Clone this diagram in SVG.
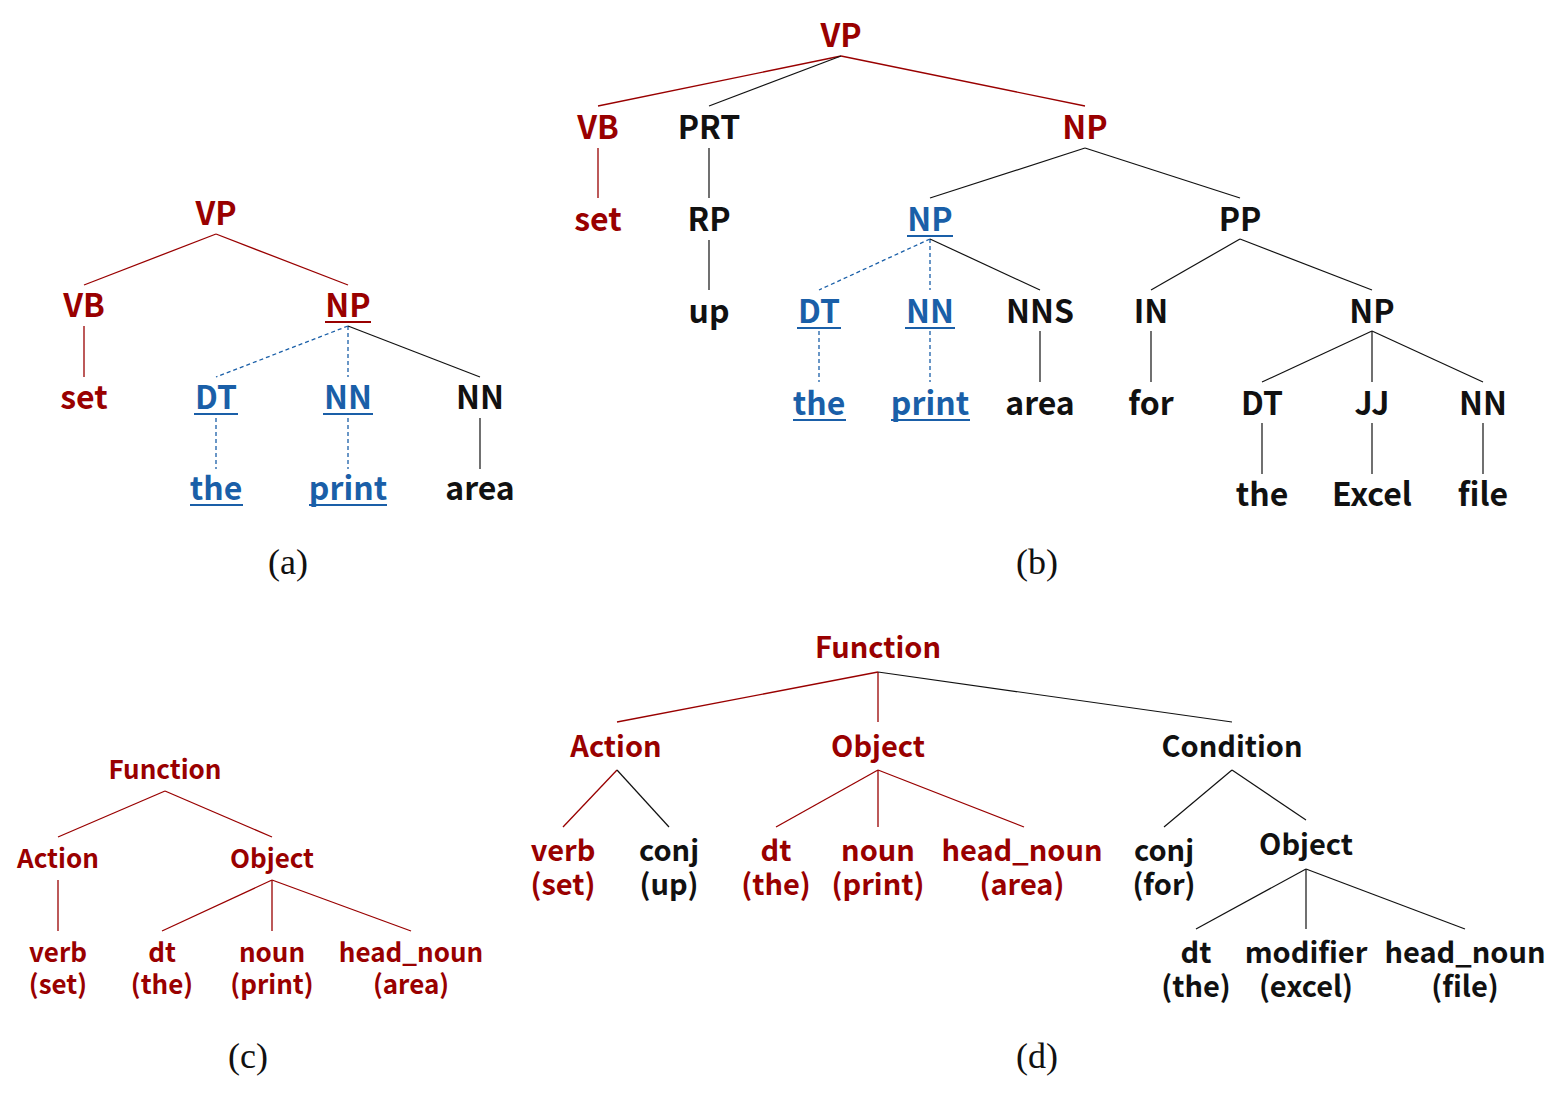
<svg xmlns="http://www.w3.org/2000/svg" width="1558" height="1098" viewBox="0 0 1558 1098">
<style>
text{font-family:"Noto Sans CJK SC","Noto Sans",sans-serif;font-weight:600;text-anchor:middle}
.big{font-size:32px}
.mid{font-size:29px}
.sm{font-size:26px}
.cap{font-family:"Liberation Serif","DejaVu Serif",serif;font-weight:400;font-size:36px}
.r{fill:#990000}
.b{fill:#1a5fa8}
.k{fill:#111}
.er{stroke:#990000;stroke-width:1.3;fill:none}
.ek{stroke:#111;stroke-width:1.2;fill:none}
.eb{stroke:#1a5fa8;stroke-width:1.3;stroke-dasharray:4 3;fill:none}
.ur{stroke:#990000;stroke-width:2}
.ub{stroke:#1a5fa8;stroke-width:2}
</style>
<rect width="1558" height="1098" fill="#fff"/>
<g id="connectors">
<!-- tree a -->
<line class="er" x1="216" y1="234" x2="84" y2="285"/>
<line class="er" x1="216" y1="234" x2="348" y2="285"/>
<line class="er" x1="84" y1="326" x2="84" y2="377"/>
<line class="eb" x1="348" y1="326" x2="216" y2="377"/>
<line class="eb" x1="348" y1="326" x2="348" y2="377"/>
<line class="ek" x1="348" y1="326" x2="480" y2="377"/>
<line class="eb" x1="216" y1="418" x2="216" y2="469"/>
<line class="eb" x1="348" y1="418" x2="348" y2="469"/>
<line class="ek" x1="480" y1="418" x2="480" y2="469"/>
<!-- tree b -->
<line class="er" x1="841" y1="56" x2="598" y2="106"/>
<line class="ek" x1="841" y1="56" x2="709" y2="106"/>
<line class="er" x1="841" y1="56" x2="1085" y2="106"/>
<line class="er" x1="598" y1="148" x2="598" y2="198"/>
<line class="ek" x1="709" y1="148" x2="709" y2="198"/>
<line class="ek" x1="709" y1="240" x2="709" y2="290"/>
<line class="ek" x1="1085" y1="148" x2="930" y2="198"/>
<line class="ek" x1="1085" y1="148" x2="1240" y2="198"/>
<line class="eb" x1="930" y1="239" x2="819" y2="290"/>
<line class="eb" x1="930" y1="239" x2="930" y2="290"/>
<line class="ek" x1="930" y1="239" x2="1040" y2="290"/>
<line class="ek" x1="1240" y1="239" x2="1151" y2="290"/>
<line class="ek" x1="1240" y1="239" x2="1372" y2="290"/>
<line class="eb" x1="819" y1="331" x2="819" y2="382"/>
<line class="eb" x1="930" y1="331" x2="930" y2="382"/>
<line class="ek" x1="1040" y1="331" x2="1040" y2="382"/>
<line class="ek" x1="1151" y1="331" x2="1151" y2="382"/>
<line class="ek" x1="1372" y1="331" x2="1262" y2="382"/>
<line class="ek" x1="1372" y1="331" x2="1372" y2="382"/>
<line class="ek" x1="1372" y1="331" x2="1483" y2="382"/>
<line class="ek" x1="1262" y1="423" x2="1262" y2="474"/>
<line class="ek" x1="1372" y1="423" x2="1372" y2="474"/>
<line class="ek" x1="1483" y1="423" x2="1483" y2="474"/>
<!-- tree c -->
<line class="er" x1="165" y1="791" x2="58" y2="837"/>
<line class="er" x1="165" y1="791" x2="272" y2="837"/>
<line class="er" x1="58" y1="880" x2="58" y2="931"/>
<line class="er" x1="272" y1="880" x2="162" y2="931"/>
<line class="er" x1="272" y1="880" x2="272" y2="931"/>
<line class="er" x1="272" y1="880" x2="411" y2="931"/>
<!-- tree d -->
<line class="er" x1="878" y1="672" x2="617" y2="722"/>
<line class="er" x1="878" y1="672" x2="878" y2="722"/>
<line class="ek" x1="878" y1="672" x2="1232" y2="722"/>
<line class="er" x1="617" y1="770" x2="563" y2="827"/>
<line class="ek" x1="617" y1="770" x2="669" y2="827"/>
<line class="er" x1="878" y1="770" x2="776" y2="827"/>
<line class="er" x1="878" y1="770" x2="878" y2="827"/>
<line class="er" x1="878" y1="770" x2="1024" y2="827"/>
<line class="ek" x1="1232" y1="770" x2="1164" y2="827"/>
<line class="ek" x1="1232" y1="770" x2="1306" y2="820"/>
<line class="ek" x1="1306" y1="869" x2="1196" y2="929"/>
<line class="ek" x1="1306" y1="869" x2="1306" y2="929"/>
<line class="ek" x1="1306" y1="869" x2="1465" y2="929"/>
</g>
<!-- tree a nodes -->
<g id="a-vp"><text class="big r" x="216" y="225">VP</text></g>
<g id="a-vb"><text class="big r" x="84" y="317">VB</text></g>
<g id="a-np"><text class="big r" x="348" y="317">NP</text><line class="ur" x1="325" y1="322" x2="371" y2="322"/></g>
<g id="a-set"><text class="big r" x="84" y="409">set</text></g>
<g id="a-dt"><text class="big b" x="216" y="409">DT</text><line class="ub" x1="194" y1="414" x2="238" y2="414"/></g>
<g id="a-nn1"><text class="big b" x="348" y="409">NN</text><line class="ub" x1="323" y1="414" x2="373" y2="414"/></g>
<g id="a-nn2"><text class="big k" x="480" y="409">NN</text></g>
<g id="a-the"><text class="big b" x="216" y="500">the</text><line class="ub" x1="190" y1="505" x2="243" y2="505"/></g>
<g id="a-print"><text class="big b" x="348" y="500">print</text><line class="ub" x1="309" y1="505" x2="387" y2="505"/></g>
<g id="a-area"><text class="big k" x="480" y="500">area</text></g>
<g id="a-cap"><text class="cap k" x="288" y="574">(a)</text></g>
<!-- tree b nodes -->
<g id="b-vp"><text class="big r" x="841" y="47">VP</text></g>
<g id="b-vb"><text class="big r" x="598" y="139">VB</text></g>
<g id="b-prt"><text class="big k" x="709" y="139">PRT</text></g>
<g id="b-np"><text class="big r" x="1085" y="139">NP</text></g>
<g id="b-set"><text class="big r" x="598" y="231">set</text></g>
<g id="b-rp"><text class="big k" x="709" y="231">RP</text></g>
<g id="b-np2"><text class="big b" x="930" y="231">NP</text><line class="ub" x1="907" y1="236" x2="953" y2="236"/></g>
<g id="b-pp"><text class="big k" x="1240" y="231">PP</text></g>
<g id="b-up"><text class="big k" x="709" y="323">up</text></g>
<g id="b-dt"><text class="big b" x="819" y="323">DT</text><line class="ub" x1="797" y1="328" x2="841" y2="328"/></g>
<g id="b-nn"><text class="big b" x="930" y="323">NN</text><line class="ub" x1="905" y1="328" x2="955" y2="328"/></g>
<g id="b-nns"><text class="big k" x="1040" y="323">NNS</text></g>
<g id="b-in"><text class="big k" x="1151" y="323">IN</text></g>
<g id="b-np3"><text class="big k" x="1372" y="323">NP</text></g>
<g id="b-the"><text class="big b" x="819" y="415">the</text><line class="ub" x1="793" y1="420" x2="846" y2="420"/></g>
<g id="b-print"><text class="big b" x="930" y="415">print</text><line class="ub" x1="891" y1="420" x2="970" y2="420"/></g>
<g id="b-area"><text class="big k" x="1040" y="415">area</text></g>
<g id="b-for"><text class="big k" x="1151" y="415">for</text></g>
<g id="b-dt2"><text class="big k" x="1262" y="415">DT</text></g>
<g id="b-jj"><text class="big k" x="1372" y="415">JJ</text></g>
<g id="b-nn2"><text class="big k" x="1483" y="415">NN</text></g>
<g id="b-the2"><text class="big k" x="1262" y="506">the</text></g>
<g id="b-excel"><text class="big k" x="1372" y="506">Excel</text></g>
<g id="b-file"><text class="big k" x="1483" y="506">file</text></g>
<g id="b-cap"><text class="cap k" x="1037" y="574">(b)</text></g>
<!-- tree c nodes -->
<g id="c-function"><text class="sm r" x="165" y="779">Function</text></g>
<g id="c-action"><text class="sm r" x="58" y="868">Action</text></g>
<g id="c-object"><text class="sm r" x="272" y="868">Object</text></g>
<g id="c-verb"><text class="sm r" x="58" y="962">verb</text><text class="sm r" x="58" y="994">(set)</text></g>
<g id="c-dt"><text class="sm r" x="162" y="962">dt</text><text class="sm r" x="162" y="994">(the)</text></g>
<g id="c-noun"><text class="sm r" x="272" y="962">noun</text><text class="sm r" x="272" y="994">(print)</text></g>
<g id="c-headnoun"><text class="sm r" x="411" y="962">head_noun</text><text class="sm r" x="411" y="994">(area)</text></g>
<g id="c-cap"><text class="cap k" x="248" y="1068">(c)</text></g>
<!-- tree d nodes -->
<g id="d-function"><text class="mid r" x="878" y="658">Function</text></g>
<g id="d-action"><text class="mid r" x="616" y="757">Action</text></g>
<g id="d-object"><text class="mid r" x="878" y="757">Object</text></g>
<g id="d-condition"><text class="mid k" x="1232" y="757">Condition</text></g>
<g id="d-verb"><text class="mid r" x="563" y="861">verb</text><text class="mid r" x="563" y="895">(set)</text></g>
<g id="d-conj"><text class="mid k" x="669" y="861">conj</text><text class="mid k" x="669" y="895">(up)</text></g>
<g id="d-dt"><text class="mid r" x="776" y="861">dt</text><text class="mid r" x="776" y="895">(the)</text></g>
<g id="d-noun"><text class="mid r" x="878" y="861">noun</text><text class="mid r" x="878" y="895">(print)</text></g>
<g id="d-headnoun"><text class="mid r" x="1022" y="861">head_noun</text><text class="mid r" x="1022" y="895">(area)</text></g>
<g id="d-conj2"><text class="mid k" x="1164" y="861">conj</text><text class="mid k" x="1164" y="895">(for)</text></g>
<g id="d-object2"><text class="mid k" x="1306" y="855">Object</text></g>
<g id="d-dt2"><text class="mid k" x="1196" y="963">dt</text><text class="mid k" x="1196" y="997">(the)</text></g>
<g id="d-modifier"><text class="mid k" x="1306" y="963">modifier</text><text class="mid k" x="1306" y="997">(excel)</text></g>
<g id="d-headnoun2"><text class="mid k" x="1465" y="963">head_noun</text><text class="mid k" x="1465" y="997">(file)</text></g>
<g id="d-cap"><text class="cap k" x="1037" y="1068">(d)</text></g>
</svg>
